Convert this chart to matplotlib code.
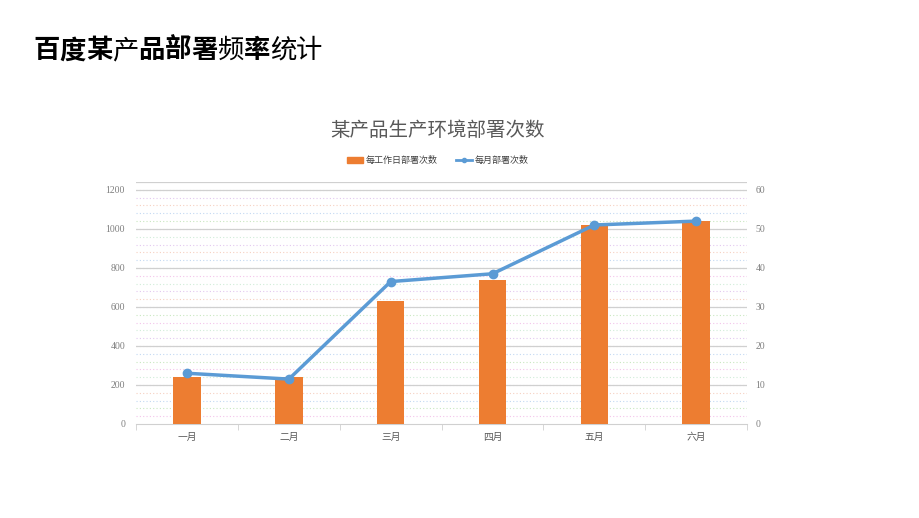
import numpy as np
import matplotlib
matplotlib.use('Agg')
import matplotlib.pyplot as plt
from matplotlib.lines import Line2D
from matplotlib.patches import Patch

plt.rcParams['font.family'] = ['Noto Sans CJK SC', 'DejaVu Sans']

# data
months = ['一月', '二月', '三月', '四月', '五月', '六月']
per_workday = [240, 240, 630, 740, 1020, 1040]   # left axis
per_month = [13, 11.5, 36.5, 38.5, 51, 52]       # right axis
left_ticks = [0, 200, 400, 600, 800, 1000, 1200]
right_ticks = [0, 10, 20, 30, 40, 50, 60]

bar_color = '#ED7D31'
line_color = '#5B9BD5'
tick_color = '#7f7f7f'

fig = plt.figure(figsize=(9.2, 5.18), dpi=100)

# page title, mixed weight like the original slide
title = '百度某产品部署频率统计'
bold_chars = set('百度某品部署率')
step = 26.3 / 920
for i, ch in enumerate(title):
    fig.text(0.036 + i * step, 0.902, ch, fontsize=19, color='black',
             ha='left', va='center',
             fontweight='bold' if ch in bold_chars else 'normal')

fig.text(0.476, 0.748, '某产品生产环境部署次数', fontsize=14, color='#595959',
         ha='center', va='center')

ax = fig.add_axes([0.148, 0.1815, 0.664, 0.467])
x = np.arange(len(months))
ax.bar(x, per_workday, width=0.27, color=bar_color, zorder=3)
ax.set_xlim(-0.5, len(months) - 0.5)
ax.set_ylim(0, 1240)
ax.set_yticks(left_ticks)
ax.set_yticklabels([str(t) for t in left_ticks], family='Liberation Serif')

# pastel dotted minor grid + light solid major grid
pastels = ['#f3c4ea', '#c9e7c0', '#c2d8f2', '#f6d0c0', '#e3c8f0', '#d0ecd8']
for i, yv in enumerate(np.arange(40, 1240, 40)):
    ax.axhline(yv, color=pastels[i % len(pastels)], lw=0.8, ls=(0, (1, 2)), zorder=1)
for t in left_ticks[1:]:
    ax.axhline(t, color='#d0d0d0', lw=0.9, zorder=1)
ax.axhline(1240, color='#d0d0d0', lw=0.9, zorder=1)

for s in ['left', 'right', 'top']:
    ax.spines[s].set_visible(False)
ax.spines['bottom'].set_color('#d0d0d0')
ax.tick_params(axis='y', length=0, labelsize=7, labelcolor=tick_color, pad=8)
ax.set_xticks(x)
ax.set_xticklabels(months)
ax.tick_params(axis='x', length=0, labelsize=7, labelcolor='#595959', pad=6)
ax.set_xticks(np.arange(-0.5, len(months)), minor=True)
ax.tick_params(axis='x', which='minor', length=4, color='#d0d0d0')

ax2 = ax.twinx()
ax2.plot(x, per_month, color=line_color, lw=2.5, marker='o', markersize=6, zorder=4)
ax2.set_ylim(0, 62)
ax2.set_yticks(right_ticks)
ax2.set_yticklabels([str(t) for t in right_ticks], family='Liberation Serif')
ax2.tick_params(axis='y', length=0, labelsize=7, labelcolor=tick_color, pad=6)
for s in ['left', 'right', 'top', 'bottom']:
    ax2.spines[s].set_visible(False)

handles = [Patch(color=bar_color),
           Line2D([0], [0], color=line_color, lw=2, marker='o', markersize=3)]
fig.legend(handles, ['每工作日部署次数', '每月部署次数'], loc='center',
           bbox_to_anchor=(0.476, 0.69), ncol=2, frameon=False, fontsize=6.5,
           handlelength=1.8, handleheight=0.6, columnspacing=2.0, handletextpad=0.3,
           labelcolor='#404040')

fig.savefig('out.png', dpi=100)
